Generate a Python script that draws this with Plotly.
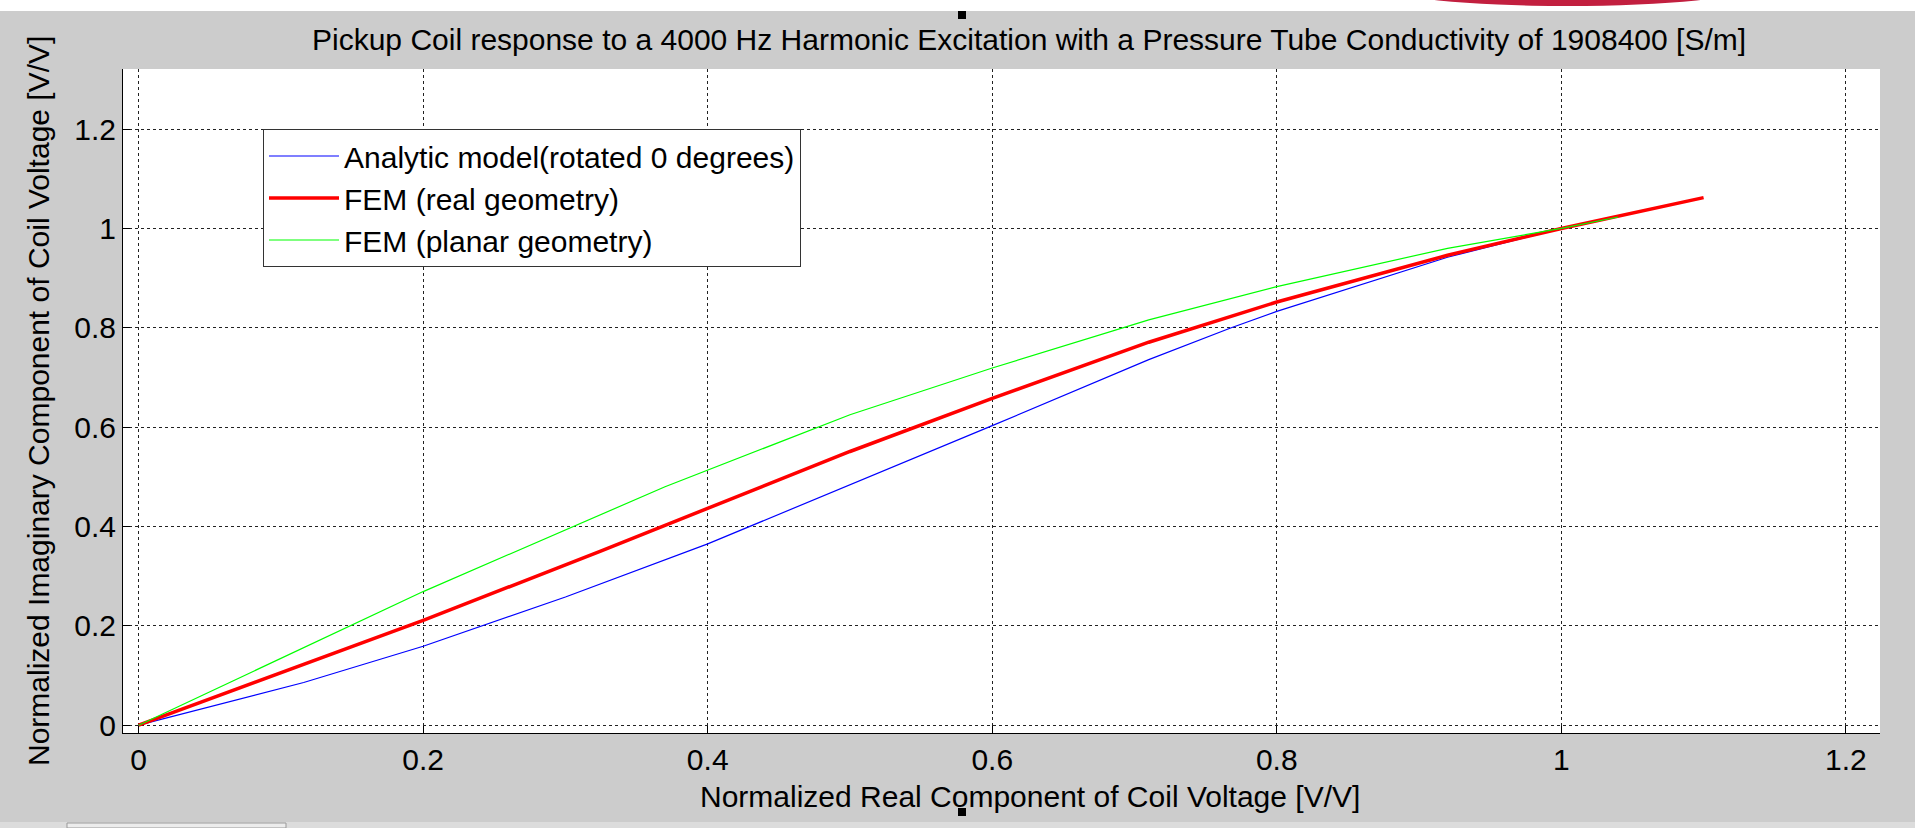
import plotly.graph_objects as go

# ---- data ----
analytic_x = [0, 0.116, 0.2, 0.30, 0.40, 0.50, 0.60, 0.71, 0.768, 0.80, 0.92, 1.00]
analytic_y = [0, 0.086, 0.159, 0.258, 0.365, 0.484, 0.603, 0.736, 0.800, 0.833, 0.942, 1.00]

fem_real_x = [0, 0.2, 0.3243, 0.40, 0.50, 0.60, 0.71, 0.80, 0.92, 1.00, 1.10]
fem_real_y = [0, 0.211, 0.350, 0.437, 0.551, 0.658, 0.771, 0.852, 0.946, 1.00, 1.062]

fem_planar_x = [0, 0.2, 0.37, 0.50, 0.60, 0.71, 0.80, 0.92, 1.00, 1.04]
fem_planar_y = [0, 0.269, 0.480, 0.625, 0.719, 0.816, 0.883, 0.960, 1.00, 1.023]

tick_vals = [0, 0.2, 0.4, 0.6, 0.8, 1.0, 1.2]
tick_text = ["0", "0.2", "0.4", "0.6", "0.8", "1", "1.2"]

title_text = "Pickup Coil response to a 4000 Hz Harmonic Excitation with a Pressure Tube Conductivity of 1908400 [S/m]"
x_label = "Normalized Real Component of Coil Voltage [V/V]"
y_label = "Normalized Imaginary Component of Coil Voltage [V/V]"

names = ["Analytic model(rotated 0 degrees)", "FEM (real geometry)", "FEM (planar geometry)"]

FONT = "Arial, Liberation Sans, sans-serif"
FS = 30
W, H = 1915, 828
L, R, T, B = 123, 35, 69, 95
pw, ph = W - L - R, H - T - B

def px_x(p):
    return (p - L) / pw

def px_y(p):
    return (H - B - p) / ph

fig = go.Figure()
fig.add_trace(go.Scatter(x=analytic_x, y=analytic_y, mode="lines", name=names[0],
                         line=dict(color="#0000ff", width=1.2)))
fig.add_trace(go.Scatter(x=fem_real_x, y=fem_real_y, mode="lines", name=names[1],
                         line=dict(color="#ff0000", width=3.5)))
fig.add_trace(go.Scatter(x=fem_planar_x, y=fem_planar_y, mode="lines", name=names[2],
                         line=dict(color="#00ff00", width=1.2)))

axis_common = dict(
    tickvals=tick_vals, ticktext=tick_text,
    showgrid=True, gridcolor="#222222", griddash="3px,3px", gridwidth=1,
    zeroline=False, showline=True, linecolor="black", linewidth=1,
    ticks="inside", ticklen=7, tickcolor="black",
    tickfont=dict(family=FONT, size=FS, color="black"),
    mirror=False,
)

fig.update_xaxes(range=[-0.011, 1.224], **axis_common)
fig.update_yaxes(range=[-0.0157, 1.321], **axis_common)

annotations = [
    dict(text=title_text, x=px_x(1029), y=px_y(40), xref="paper", yref="paper",
         showarrow=False, xanchor="center", yanchor="middle",
         font=dict(family=FONT, size=FS, color="black")),
    dict(text=x_label, x=px_x(1030), y=px_y(796), xref="paper", yref="paper",
         showarrow=False, xanchor="center", yanchor="middle",
         font=dict(family=FONT, size=FS, color="black")),
    dict(text=y_label, x=px_x(38), y=px_y(401), xref="paper", yref="paper",
         showarrow=False, xanchor="center", yanchor="middle", textangle=-90,
         font=dict(family=FONT, size=FS, color="black")),
]

shapes = [
    # white strip at top of window
    dict(type="rect", xref="paper", yref="paper", x0=px_x(0), x1=px_x(W), y0=px_y(0), y1=px_y(11),
         fillcolor="white", line=dict(width=0), layer="below"),
    # decorative red arc at top
    dict(type="circle", xref="paper", yref="paper", x0=px_x(1385), x1=px_x(1750), y0=px_y(-32), y1=px_y(6),
         fillcolor="#c21f3f", line=dict(width=0), layer="below"),
    # bottom bar
    dict(type="rect", xref="paper", yref="paper", x0=px_x(0), x1=px_x(W), y0=px_y(822), y1=px_y(H),
         fillcolor="#dcdcdc", line=dict(width=0), layer="below"),
    dict(type="rect", xref="paper", yref="paper", x0=px_x(67), x1=px_x(286), y0=px_y(823), y1=px_y(H),
         fillcolor="#ececec", line=dict(color="#999999", width=1), layer="below"),
    # selection handles
    dict(type="rect", xref="paper", yref="paper", x0=px_x(958), x1=px_x(966), y0=px_y(11), y1=px_y(19),
         fillcolor="black", line=dict(width=0)),
    dict(type="rect", xref="paper", yref="paper", x0=px_x(958), x1=px_x(966), y0=px_y(808), y1=px_y(816),
         fillcolor="black", line=dict(width=0)),
]

fig.update_layout(
    width=W, height=H,
    margin=dict(l=L, r=R, t=T, b=B, pad=0),
    paper_bgcolor="#cccccc", plot_bgcolor="white",
    showlegend=True,
    legend=dict(x=px_x(263), y=px_y(129), xanchor="left", yanchor="top",
                bgcolor="white", bordercolor="#333333", borderwidth=1,
                font=dict(family=FONT, size=FS, color="black"),
                itemwidth=70, tracegroupgap=0),
    annotations=annotations,
    shapes=shapes,
)

fig.write_html(
    "out.html",
    config={"displayModeBar": False},
    post_script="document.body.style.margin='0';document.body.style.overflow='hidden';",
)
